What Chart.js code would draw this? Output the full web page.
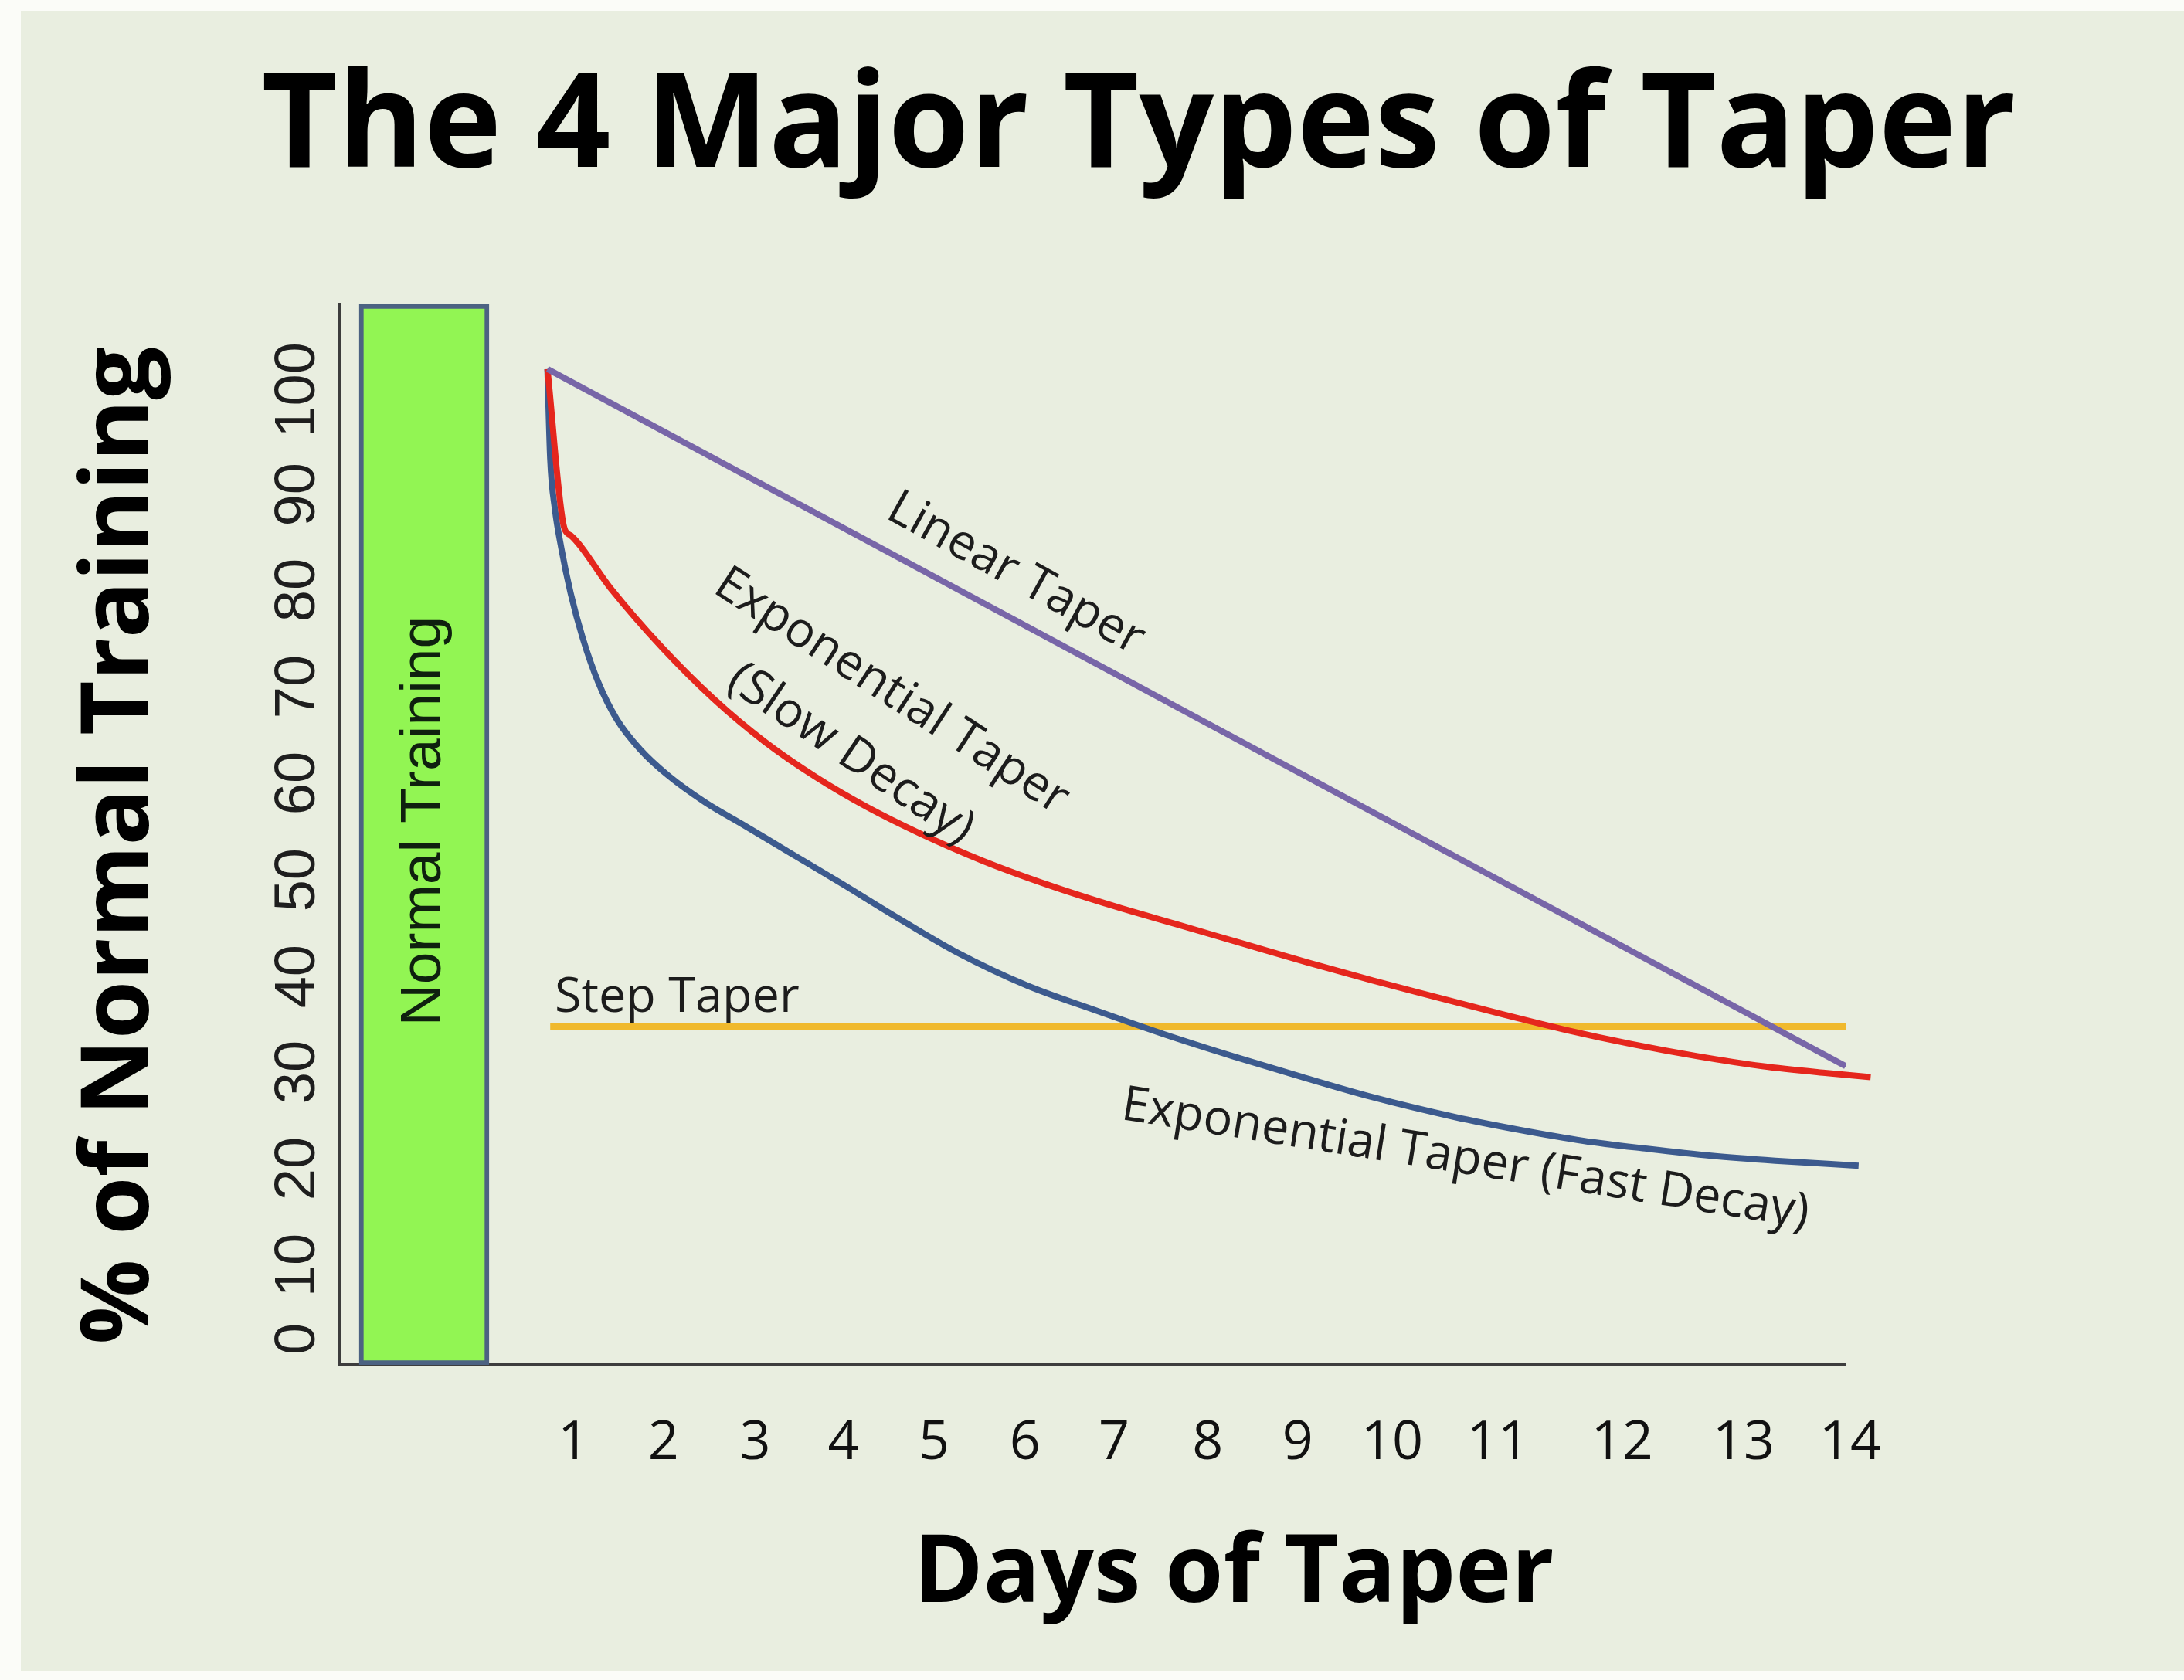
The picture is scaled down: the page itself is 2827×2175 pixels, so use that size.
<!DOCTYPE html>
<html lang="en">
<head>
<meta charset="UTF-8">
<title>The 4 Major Types of Taper</title>
<script src="https://cdn.jsdelivr.net/npm/chart.js"></script>
<style>
    html, body { margin: 0; padding: 0; background: #fbfcf8; overflow: hidden; }
    #wrap { position: absolute; left: 27px; top: 14px; width: 2800px; height: 2149px; background: #e9eee0; }
</style>
</head>
<body>
<div id="wrap"><canvas id="taperChart"></canvas></div>

<script>
    // x = day of taper, y = % of normal training
    const linearDays = [0, 14];
    const linearPct = [100, 30];

    const stepDays = [0.03, 14];
    const stepPct = [34, 34];

    const slowDays = [0, 0.18, 0.25, 0.68, 1.24, 1.79, 2.34, 2.90, 3.45, 4.01, 4.7, 5.4, 6.1, 6.8, 7.5, 8.2, 8.9, 9.6, 10.3, 11.0, 11.7, 12.4, 13.1, 13.8, 14.27];
    const slowPct = [100, 84.1, 83.3, 78.0, 72.0, 66.9, 62.6, 59.0, 56.0, 53.4, 50.6, 48.2, 46.1, 44.2, 42.3, 40.4, 38.6, 36.9, 35.2, 33.6, 32.2, 31.0, 30.0, 29.3, 28.9];

    const fastDays = [0, 0.03, 0.08, 0.15, 0.25, 0.38, 0.55, 0.75, 1.0, 1.3, 1.7, 2.1, 2.62, 3.18, 3.74, 4.42, 5.17, 5.91, 6.65, 7.39, 8.14, 8.89, 9.78, 10.48, 11.17, 11.86, 12.55, 13.24, 14.14];
    const fastPct = [100, 91, 86, 82, 77.5, 73, 68.5, 64.8, 61.8, 59.2, 56.5, 54.3, 51.4, 48.3, 45.1, 41.4, 38.1, 35.6, 33.2, 31.0, 28.9, 26.9, 24.9, 23.6, 22.5, 21.7, 21.0, 20.5, 20.0];

    // the "normal training" block sits before day 0 and fills the axis height
    const normalDay = -1.33;
    const normalPct = [0, 106.5];

    // tick labels sit where the original slide typed them (not evenly spaced)
    const xTickPos = [0.28, 1.25, 2.24, 3.19, 4.17, 5.15, 6.11, 7.12, 8.09, 9.11, 10.25, 11.59, 12.90, 14.05];
    const xTickLabels = ['1', '2', '3', '4', '5', '6', '7', '8', '9', '10', '11', '12', '13', '14'];
    const yTickPos = [2.6, 10.0, 19.7, 29.4, 39.0, 48.7, 58.4, 68.1, 77.8, 87.4, 97.9];
    const yTickLabels = ['0', '10', '20', '30', '40', '50', '60', '70', '80', '90', '100'];

    const toPoints = (xs, ys) => xs.map((d, i) => ({ x: d, y: ys[i] }));

    // text placed on the plot, in data units
    const notes = [
        { text: 'Linear Taper', day: 5.05, pct: 79.4, angle: 29 },
        { text: 'Exponential Taper', day: 3.71, pct: 67.6, angle: 33 },
        { text: '(Slow Decay)', day: 3.27, pct: 61.3, angle: 34 },
        { text: 'Exponential Taper (Fast Decay)', day: 9.90, pct: 20.6, angle: 9 }
    ];

    const textPlugin = {
        id: 'taperText',
        afterDatasetsDraw(chart) {
            const { ctx, chartArea } = chart;
            const { x, y } = chart.scales;
            ctx.save();

            // main title
            ctx.fillStyle = '#000';
            ctx.font = 'bold 170px "Open Sans", sans-serif';
            ctx.textAlign = 'center';
            ctx.textBaseline = 'alphabetic';
            ctx.fillText('The 4 Major Types of Taper', chartArea.left + 1034, chartArea.top - 178);

            // rotated y tick labels
            ctx.fillStyle = '#1e1e1e';
            ctx.font = '74px "Liberation Sans", Arial, sans-serif';
            ctx.textBaseline = 'middle';
            yTickPos.forEach((v, i) => {
                ctx.save();
                ctx.translate(chartArea.left - 53, y.getPixelForValue(v));
                ctx.rotate(-Math.PI / 2);
                ctx.fillText(yTickLabels[i], 0, 0);
                ctx.restore();
            });

            // label inside the green block
            ctx.save();
            ctx.fillStyle = '#0f200f';
            ctx.font = '75px "Liberation Sans", Arial, sans-serif';
            ctx.translate(x.getPixelForValue(normalDay), y.getPixelForValue(54.6));
            ctx.rotate(-Math.PI / 2);
            ctx.fillText('Normal Training', 0, 0);
            ctx.restore();

            // axis titles
            ctx.fillStyle = '#000';
            ctx.font = 'bold 122px "Open Sans", sans-serif';
            ctx.save();
            ctx.translate(chartArea.left - 283, (chartArea.top + chartArea.bottom) / 2 + 14);
            ctx.rotate(-Math.PI / 2);
            ctx.fillText('% of Normal Training', 0, 0);
            ctx.restore();

            ctx.textBaseline = 'alphabetic';
            ctx.fillText('Days of Taper', chartArea.left + 1157, chartArea.bottom + 307);

            // curve labels
            ctx.fillStyle = '#1c1c1c';
            ctx.font = '63px "Open Sans", sans-serif';
            ctx.textAlign = 'left';
            ctx.fillText('Step Taper', x.getPixelForValue(0.078), y.getPixelForValue(35.45));

            ctx.textAlign = 'center';
            ctx.textBaseline = 'middle';
            notes.forEach(n => {
                ctx.save();
                ctx.translate(x.getPixelForValue(n.day), y.getPixelForValue(n.pct));
                ctx.rotate(n.angle * Math.PI / 180);
                ctx.fillText(n.text, 0, 0);
                ctx.restore();
            });

            ctx.restore();
        }
    };

    const ctx = document.getElementById('taperChart').getContext('2d');
    new Chart(ctx, {
        type: 'line',
        data: {
            datasets: [
                {
                    label: 'Linear Taper',
                    data: toPoints(linearDays, linearPct),
                    borderColor: '#7866a8',
                    borderWidth: 8,
                    pointRadius: 0,
                    tension: 0,
                    order: 1
                },
                {
                    label: 'Exponential Taper (Slow Decay)',
                    data: toPoints(slowDays, slowPct),
                    borderColor: '#e5261d',
                    borderWidth: 8,
                    pointRadius: 0,
                    cubicInterpolationMode: 'monotone',
                    clip: false,
                    order: 2
                },
                {
                    label: 'Exponential Taper (Fast Decay)',
                    data: toPoints(fastDays, fastPct),
                    borderColor: '#3c5a8e',
                    borderWidth: 8,
                    pointRadius: 0,
                    cubicInterpolationMode: 'monotone',
                    clip: false,
                    order: 3
                },
                {
                    label: 'Step Taper',
                    data: toPoints(stepDays, stepPct),
                    borderColor: '#f0b92d',
                    borderWidth: 9,
                    pointRadius: 0,
                    tension: 0,
                    order: 4
                },
                {
                    type: 'bar',
                    label: 'Normal Training',
                    data: [{ x: normalDay, y: normalPct }],
                    backgroundColor: '#92f553',
                    borderColor: '#4c6282',
                    borderWidth: 6,
                    borderSkipped: false,
                    barThickness: 168,
                    order: 5
                }
            ]
        },
        options: {
            responsive: true,
            maintainAspectRatio: false,
            animation: false,
            layout: {
                padding: { left: 413, right: 438, top: 380, bottom: 192 }
            },
            plugins: {
                legend: { display: false },
                tooltip: { enabled: false },
                title: { display: false }
            },
            scales: {
                x: {
                    type: 'linear',
                    min: -2.238,
                    max: 14,
                    offset: false,
                    grid: { display: false, drawTicks: false, offset: false },
                    border: { display: true, color: '#3d3d3d', width: 4 },
                    afterBuildTicks: axis => {
                        axis.ticks = xTickPos.map(v => ({ value: v }));
                    },
                    ticks: {
                        autoSkip: false,
                        maxRotation: 0,
                        minRotation: 0,
                        padding: 60,
                        color: '#111',
                        font: { family: 'Open Sans', size: 70 },
                        callback: (v, i) => xTickLabels[i]
                    }
                },
                y: {
                    type: 'linear',
                    min: 0,
                    max: normalPct[1],
                    grid: { display: false, drawTicks: false },
                    border: { display: true, color: '#3d3d3d', width: 4 },
                    ticks: { display: false }
                }
            }
        },
        plugins: [textPlugin]
    });
</script>
</body>
</html>
